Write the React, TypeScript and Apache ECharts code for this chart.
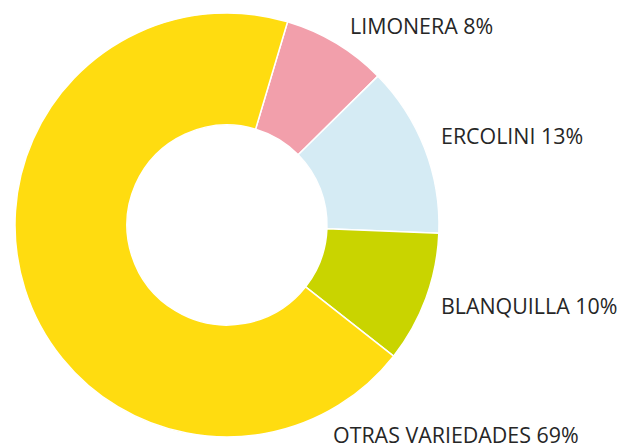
import React, { useEffect, useRef } from "react";
import * as echarts from "echarts";

const categories = ["LIMONERA", "ERCOLINI", "BLANQUILLA", "OTRAS VARIEDADES"];
const values = [8, 13, 10, 69];
const colors = ["#F29FAB", "#D5EBF4", "#C9D400", "#FFDC10"];
const labelAnchors = [
  [350, 25],
  [441, 135],
  [441, 305],
  [333, 434],
];

export default function App() {
  const ref = useRef<HTMLDivElement>(null);
  useEffect(() => {
    if (!ref.current) return;
    const chart = echarts.init(ref.current, undefined, { renderer: "svg" });
    chart.setOption({
      animation: false,
      backgroundColor: "#ffffff",
      series: [
        {
          type: "pie",
          center: [227, 225],
          radius: [100, 212],
          startAngle: 73.4,
          clockwise: true,
          avoidLabelOverlap: false,
          itemStyle: { borderColor: "#ffffff", borderWidth: 1.5 },
          label: {
            show: true,
            position: "outside",
            formatter: "{b} {c}%",
            fontFamily: "Open Sans",
            fontSize: 21.4,
            color: "#262626",
          },
          labelLine: { show: false },
          labelLayout: (p: any) => {
            const a = labelAnchors[p.dataIndex];
            return { x: a[0], y: a[1], align: "left", verticalAlign: "middle" };
          },
          emphasis: { disabled: true },
          data: categories.map((c, i) => ({
            name: c,
            value: values[i],
            itemStyle: { color: colors[i] },
          })),
        },
      ],
    });
    return () => chart.dispose();
  }, []);
  return (
    <div
      ref={ref}
      style={{ position: "absolute", left: 0, top: 0, width: 621, height: 448 }}
    />
  );
}
